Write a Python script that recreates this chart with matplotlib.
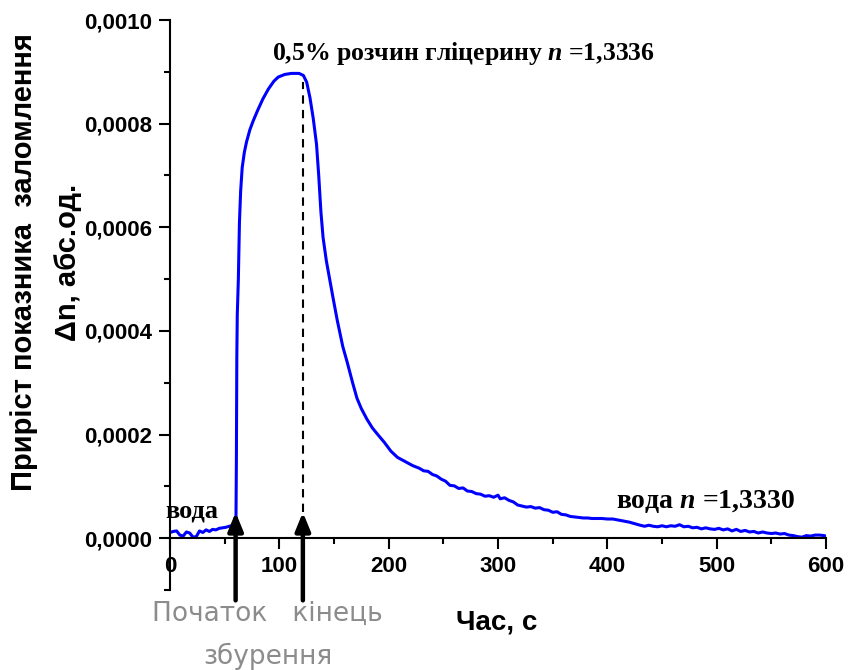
import matplotlib
matplotlib.use("Agg")
import matplotlib.pyplot as plt
from matplotlib.ticker import MultipleLocator, FuncFormatter

plt.rcParams["mathtext.fontset"] = "custom"
plt.rcParams["mathtext.it"] = "Liberation Serif:italic:bold"
plt.rcParams["mathtext.rm"] = "Liberation Serif:bold"

# Refractive index increment (in units of 1e-5) versus time, s
SCALE = 1e-5
t_base = [0, 3, 6, 9, 12, 15, 18, 21, 24, 27, 30, 33, 36, 39, 42, 45, 48, 51, 54, 57, 59, 60.3]
v_base = [1.1, 1.3, 1.4, 0.6, 0.4, 1.2, 1.0, 0.2, 0.3, 1.4, 1.1, 1.6, 1.3, 1.7, 1.6, 1.9, 2.0, 2.1, 2.3, 2.4, 2.6, 3.0]

t_peak = [60.7, 61.1, 61.5, 62.5, 63.5, 64.6, 66, 68, 70, 73, 76, 80, 85, 90, 95, 99, 105, 111,
          118, 122, 125, 128, 131, 134, 136, 138, 140, 143, 146, 149, 153, 158, 162, 167, 171,
          175, 180, 185, 190, 196, 202, 208, 215, 222]
v_peak = [15, 35, 43, 50, 61, 67, 71.5, 74.5, 76.5, 78.8, 80.5, 82.5, 84.8, 86.7, 88.2, 89.0, 89.5, 89.7,
          89.7, 89.3, 88, 85, 81, 76, 70, 63, 58, 53.5, 50, 46.5, 42, 37, 34, 30, 27,
          25, 23, 21.3, 20, 18.5, 16.8, 15.6, 14.8, 14.0]

t_tail = [228, 232, 236, 240, 244, 248, 252, 256, 260, 264, 268, 272, 276, 280, 284, 288, 292, 296,
          300, 302, 306, 310, 314, 318, 322, 326, 330, 334, 338, 342, 346, 350, 354, 358, 362, 366,
          370, 374, 378, 382, 386, 390, 395, 400, 405, 410, 415, 420, 425, 430, 434, 438, 442, 446,
          450, 454, 458, 462, 466, 470, 474, 478, 482, 486, 490, 494, 498, 502, 506, 510, 514, 518,
          522, 526, 530, 534, 538, 542, 546, 550, 554, 558, 562, 566, 570, 574, 578, 582, 586, 590,
          594, 598, 600]
v_tail = [13.5, 13.0, 12.9, 12.3, 12.0, 11.4, 11.0, 10.2, 10.1, 9.6, 9.7, 9.1, 9.0, 8.6, 8.5, 8.1, 8.2, 7.9,
          8.3, 7.6, 7.8, 7.3, 7.0, 6.4, 6.2, 6.0, 6.1, 5.8, 5.9, 5.5, 5.4, 5.0, 5.1, 4.6, 4.5, 4.2,
          4.1, 4.0, 3.9, 3.9, 3.8, 3.8, 3.8, 3.7, 3.7, 3.5, 3.3, 3.1, 2.8, 2.5, 2.3, 2.5, 2.3, 2.2,
          2.4, 2.2, 2.4, 2.3, 2.6, 2.2, 2.3, 2.0, 2.1, 1.8, 2.0, 1.8, 1.7, 1.9, 1.6, 1.8, 1.4, 1.7,
          1.3, 1.5, 1.2, 1.3, 1.0, 1.2, 1.0, 0.9, 1.0, 0.8, 0.9, 0.6, 0.5, 0.3, 0.2, 0.5, 0.4, 0.6,
          0.6, 0.5, 0.4]

t_start = 60.0      # start of the perturbation
t_end = 121.5       # end of the perturbation
arrow_tip = 0.00005
arrow_tail = -0.00012
peak_level = 0.00088

x_ticks = [0, 100, 200, 300, 400, 500, 600]
y_ticks = [0.0, 0.0002, 0.0004, 0.0006, 0.0008, 0.0010]

t = t_base + t_peak + t_tail
v = [x * SCALE for x in (v_base + v_peak + v_tail)]

fig = plt.figure(figsize=(8.6, 6.7), dpi=100)
ax = fig.add_axes([0.1977, 0.1194, 0.7628, 0.8507])

ax.plot(t, v, color="#0000ff", lw=2.2, solid_joinstyle="round")

ax.set_xlim(0, 600)
ax.set_ylim(-0.0001, 0.0010)
ax.spines["top"].set_visible(False)
ax.spines["right"].set_visible(False)
ax.spines["bottom"].set_position(("data", 0))
for s in ("left", "bottom"):
    ax.spines[s].set_linewidth(1.5)

ax.set_xticks(x_ticks)
ax.set_yticks(y_ticks)
ax.xaxis.set_minor_locator(MultipleLocator(50))
ax.yaxis.set_minor_locator(MultipleLocator(0.0001))
ax.yaxis.set_major_formatter(FuncFormatter(lambda y, p: f"{y:.4f}".replace(".", ",")))
ax.tick_params(which="major", direction="out", length=8, width=1.5, pad=5)
ax.tick_params(which="minor", direction="out", length=4.5, width=1.5)
for lab in ax.get_xticklabels() + ax.get_yticklabels():
    lab.set_fontfamily("Liberation Sans")
    lab.set_fontweight("bold")
    lab.set_fontsize(16)

# dashed marker of the end of perturbation
ax.plot([t_end, t_end], [arrow_tip, peak_level], ls=(0, (4, 3)), color="black", lw=1.5)

# arrows for start/end of perturbation
for xa in (t_start, t_end):
    ax.annotate("", xy=(xa, arrow_tip), xytext=(xa, arrow_tail),
                arrowprops=dict(arrowstyle="-|>,head_length=1.1,head_width=0.45",
                                color="black", lw=3.2, shrinkA=0, shrinkB=0),
                annotation_clip=False)

serif = "Liberation Serif"
ax.text(-4, 0.00003, "вода", fontfamily=serif, fontweight="bold", fontsize=19,
        ha="left", va="bottom")
ax.text(93, 0.00091, "0,5% розчин гліцерину $n$ =1,3336", fontfamily=serif,
        fontweight="bold", fontsize=18.5, ha="left", va="bottom")
ax.text(408, 0.000045, "вода $n$ =1,3330", fontfamily=serif, fontweight="bold",
        fontsize=20, ha="left", va="bottom")

fig.text(46 / 860, 1 - 262 / 670, "Приріст показника  заломлення\nΔn, абс.од.",
         rotation=90, ha="center", va="center", multialignment="center",
         fontfamily="Liberation Sans", fontweight="bold", fontsize=21, linespacing=1.75)

fig.text(497 / 860, 1 - 622 / 670, "Час, с", ha="center", va="center",
         fontfamily=["Liberation Sans Narrow", "Liberation Sans"], fontweight="bold", fontsize=20)

gray = "#8c8c8c"
fig.text(152 / 860, 1 - 614 / 670, "Початок   кінець", ha="left", va="center",
         fontfamily="DejaVu Sans", fontsize=19, color=gray)
fig.text(268 / 860, 1 - 656 / 670, "збурення", ha="center", va="center",
         fontfamily="DejaVu Sans", fontsize=19, color=gray)

fig.savefig("out.png", dpi=100)
